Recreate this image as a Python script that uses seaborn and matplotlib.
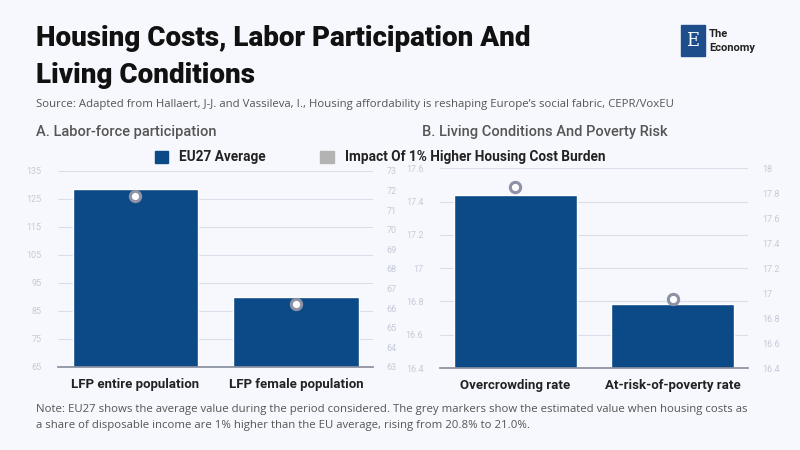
import numpy as np
import matplotlib.pyplot as plt
import matplotlib.patches as mpatches
import seaborn as sns

left_cats = ["LFP entire population", "LFP female population"]
left_eu = [128.5, 90.0]
left_impact = [71.7, 66.2]

right_cats = ["Overcrowding rate", "At-risk-of-poverty rate"]
right_eu = [17.44, 16.785]
right_impact = [17.85, 16.95]

BG = "#f7f8fd"
BAR = "#0b4a87"
TICK = "#c4cad8"
GRID = "#d9deea"
SMALL = ["Open Sans", "DejaVu Sans"]

sns.set_theme(style="white")
plt.rcParams["font.family"] = ["Roboto", "DejaVu Sans"]

fig = plt.figure(figsize=(8, 4.5), dpi=100, facecolor=BG)


def fmt(v):
    return f"{v:g}"


def panel(rect, cats, eu, impact, ylim, yticks, y2lim, y2ticks):
    ax = fig.add_axes(rect, facecolor=BG)
    sns.barplot(x=cats, y=eu, color=BAR, saturation=1, width=0.78, ax=ax)
    ax.set_ylim(*ylim)
    ax.set_yticks(yticks)
    ax.set_yticklabels([fmt(v) for v in yticks], fontsize=6.5, color=TICK)
    ax.yaxis.grid(True, color=GRID, lw=0.8)
    ax.set_axisbelow(True)
    for s in ["top", "right", "left"]:
        ax.spines[s].set_visible(False)
    ax.spines["bottom"].set_color("#8a90a0")
    ax.tick_params(axis="x", labelsize=9.5, length=0, pad=8)
    for t in ax.get_xticklabels():
        t.set_fontweight("bold")
        t.set_color("#222222")
    ax.tick_params(axis="y", length=0, pad=12)
    ax2 = ax.twinx()
    ax2.set_ylim(*y2lim)
    ax2.set_yticks(y2ticks)
    ax2.set_yticklabels([fmt(v) for v in y2ticks], fontsize=6.5, color=TICK)
    ax2.tick_params(axis="y", length=0, pad=10)
    for s in ax2.spines.values():
        s.set_visible(False)
    ax2.scatter(range(len(cats)), impact, s=55, facecolor="white",
                edgecolor="#8d92a6", linewidth=2.2, zorder=5)
    return ax


panel([0.073, 0.185, 0.393, 0.435], left_cats, left_eu, left_impact,
      (65, 135), np.arange(65, 136, 10), (63, 73), np.arange(63, 74, 1))
panel([0.55, 0.182, 0.385, 0.444], right_cats, right_eu, right_impact,
      (16.4, 17.6), np.round(np.arange(16.4, 17.61, 0.2), 1),
      (16.4, 18), np.round(np.arange(16.4, 18.01, 0.2), 1))

fig.text(0.045, 0.915, "Housing Costs, Labor Participation And", fontsize=20,
         fontweight="heavy", color="#111111", va="center")
fig.text(0.045, 0.833, "Living Conditions", fontsize=20,
         fontweight="heavy", color="#111111", va="center")
fig.text(0.045, 0.768, "Source: Adapted from Hallaert, J-J. and Vassileva, I., Housing affordability "
         "is reshaping Europe\u2019s social fabric, CEPR/VoxEU", fontsize=8.2,
         color="#555555", va="center", family=SMALL)
fig.text(0.045, 0.706, "A. Labor-force participation", fontsize=10.5, fontweight="medium",
         color="#555555", va="center")
fig.text(0.528, 0.706, "B. Living Conditions And Poverty Risk", fontsize=10.5,
         fontweight="medium", color="#555555", va="center")

handles = [mpatches.Patch(color=BAR, label="EU27 Average"),
           mpatches.Patch(color="#b3b3b3", label="Impact Of 1% Higher Housing Cost Burden")]
leg = fig.legend(handles=handles, loc="center", bbox_to_anchor=(0.475, 0.65), ncol=2,
                 frameon=False, fontsize=9.8, handlelength=1.0, handleheight=1.0,
                 columnspacing=4)
for t in leg.get_texts():
    t.set_fontweight("bold")
    t.set_color("#222222")

fig.text(0.045, 0.09, "Note: EU27 shows the average value during the period considered. The grey "
         "markers show the estimated value when housing costs as", fontsize=8.2,
         color="#555555", va="center", family=SMALL)
fig.text(0.045, 0.055, "a share of disposable income are 1% higher than the EU average, rising "
         "from 20.8% to 21.0%.", fontsize=8.2, color="#555555", va="center", family=SMALL)

# logo
fig.patches.append(mpatches.Rectangle((0.851, 0.875), 0.03, 0.07, transform=fig.transFigure,
                                      color="#1e4d8c"))
fig.text(0.866, 0.91, "E", fontsize=13, color="white", ha="center", va="center",
         family="DejaVu Serif")
fig.text(0.886, 0.925, "The", fontsize=8, fontweight="bold", color="#222222", va="center")
fig.text(0.886, 0.893, "Economy", fontsize=8, fontweight="bold", color="#222222", va="center")

fig.savefig("out.png", dpi=100, facecolor=BG)
